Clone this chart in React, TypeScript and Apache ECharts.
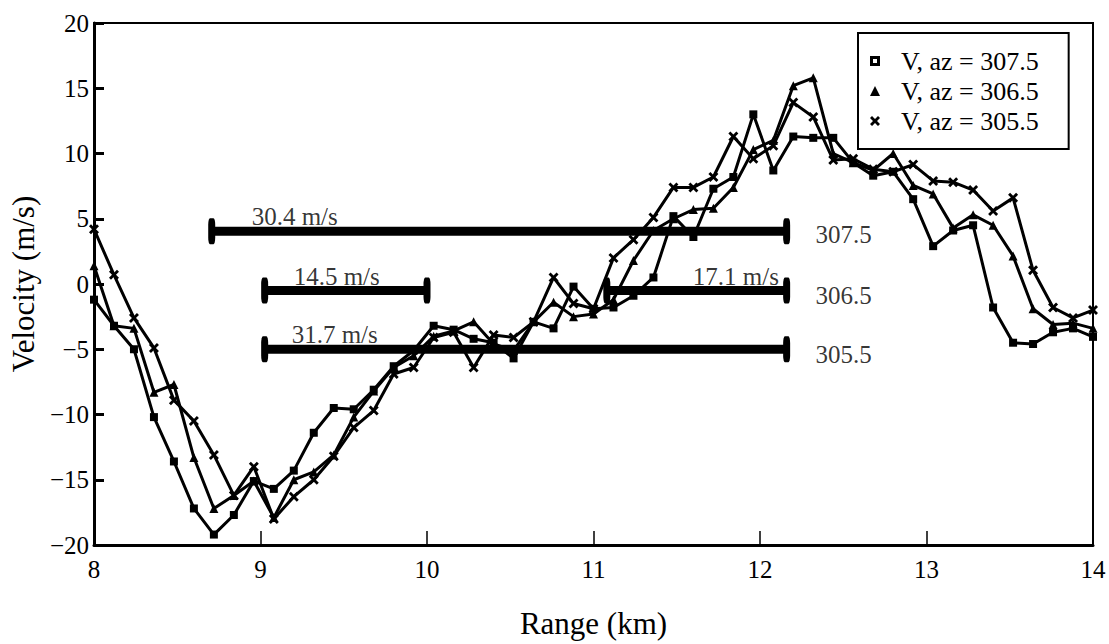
import React, { useEffect, useRef } from "react";
import * as echarts from "echarts";

const ranges = [
  8.0, 8.12, 8.24, 8.36, 8.48, 8.6, 8.72, 8.84, 8.96, 9.08, 9.2, 9.32, 9.44, 9.56, 9.68, 9.8, 9.92,
  10.04, 10.16, 10.28, 10.4, 10.52, 10.64, 10.76, 10.88, 11.0, 11.12, 11.24, 11.36, 11.48, 11.6,
  11.72, 11.84, 11.96, 12.08, 12.2, 12.32, 12.44, 12.56, 12.68, 12.8, 12.92, 13.04, 13.16, 13.28,
  13.4, 13.52, 13.64, 13.76, 13.88, 14.0,
];

const vAz3075 = [
  -1.2, -3.2, -5.0, -10.2, -13.6, -17.2, -19.2, -17.7, -15.1, -15.7, -14.3, -11.4, -9.5, -9.6, -8.1,
  -6.3, -5.1, -3.2, -3.5, -4.2, -4.5, -5.7, -2.9, -3.4, -0.2, -1.9, -1.8, -0.9, 0.5, 5.2, 3.6, 7.3,
  8.2, 13.0, 8.7, 11.3, 11.2, 11.2, 9.3, 8.3, 8.6, 6.5, 2.9, 4.1, 4.5, -1.8, -4.5, -4.6, -3.7, -3.4,
  -4.05,
];

const vAz3065 = [
  1.4, -3.2, -3.4, -8.3, -7.7, -13.3, -17.2, -16.2, -15.1, -17.9, -15.0, -14.4, -13.1, -10.2, -8.2,
  -6.4, -5.5, -4.0, -3.6, -2.9, -4.6, -5.1, -2.9, -1.4, -2.5, -2.3, -1.2, 1.8, 4.1, 5.0, 5.7, 5.8,
  7.4, 10.3, 11.0, 15.2, 15.8, 10.0, 9.3, 8.7, 10.0, 7.55, 6.9, 4.3, 5.3, 4.5, 2.15, -1.9, -3.1,
  -3.0, -3.4,
];

const vAz3055 = [
  4.2, 0.7, -2.6, -4.9, -8.9, -10.5, -13.1, -16.2, -14.0, -18.0, -16.3, -15.0, -13.2, -11.0, -9.7,
  -6.9, -6.4, -4.1, -3.7, -6.4, -3.9, -4.1, -2.9, 0.5, -1.5, -1.9, 2.0, 3.4, 5.1, 7.4, 7.4, 8.2,
  11.3, 9.6, 10.6, 13.9, 12.8, 9.5, 9.6, 8.8, 8.6, 9.15, 7.9, 7.8, 7.2, 5.6, 6.6, 1.05, -1.8, -2.6,
  -2.0,
];

const seriesNames = ["V, az = 307.5", "V, az = 306.5", "V, az = 305.5"];

// Mean-velocity bars: [startRange, endRange, velocity]
const barStart = [8.707, 9.025, 11.08, 9.025];
const barEnd = [12.16, 10.0, 12.16, 12.16];
const barLevel = [4.05, -0.5, -0.5, -5.0];

// Bar annotations
const barLabelText = ["30.4 m/s", "14.5 m/s", "17.1 m/s", "31.7 m/s"];
const barLabelX = [8.947, 9.199, 11.596, 9.187];
const barLabelY = [5.17, 0.6, 0.6, -3.87];

const azLabelText = ["307.5", "306.5", "305.5"];
const azLabelX = [12.334, 12.334, 12.334];
const azLabelY = [3.77, -0.87, -5.4];

const xTicks = [8, 14, 1];
const yTicks = [-20, 20, 5];

const FONT = "'Liberation Serif', 'Times New Roman', serif";
const X_PATH =
  "path://M2,0 L5,3 L8,0 L10,2 L7,5 L10,8 L8,10 L5,7 L2,10 L0,8 L3,5 L0,2 Z";
const HOLLOW_SQ = "path://M0,0 L10,0 L10,10 L0,10 Z M3,3 L3,7 L7,7 L7,3 Z";

export default function App() {
  const ref = useRef<HTMLDivElement>(null);

  useEffect(() => {
    if (!ref.current) return;
    const chart = echarts.init(ref.current, null, { renderer: "svg" });

    const mk = (vals: number[]) => ranges.map((r, i) => [r, vals[i]]);

    const lineBase = {
      type: "line" as const,
      lineStyle: { color: "#000", width: 3 },
      itemStyle: { color: "#000" },
      showSymbol: true,
      z: 3,
    };

    const barSeries = barStart.map((s, i) => ({
      type: "line" as const,
      name: "bar" + i,
      data: [
        [s, barLevel[i]],
        [barEnd[i], barLevel[i]],
      ],
      lineStyle: { color: "#000", width: 9 },
      itemStyle: { color: "#000" },
      symbol: "roundRect",
      symbolSize: [7, 26],
      z: 2,
      silent: true,
    }));

    const labelSeries = (texts: string[], xs: number[], ys: number[], name: string) => ({
      type: "scatter" as const,
      name,
      symbolSize: 0,
      data: texts.map((t, i) => ({ value: [xs[i], ys[i]], name: t })),
      label: {
        show: true,
        position: [0, 0],
        align: "left",
        verticalAlign: "middle",
        formatter: (p: any) => p.name,
        color: "#000",
        fontSize: 25,
        fontFamily: FONT,
      },
      z: 4,
      silent: true,
    });

    chart.setOption({
      animation: false,
      backgroundColor: "#fff",
      grid: {
        left: 92,
        right: 16,
        top: 23,
        bottom: 78,
        show: true,
        borderColor: "#000",
        borderWidth: 2,
      },
      legend: {
        data: [
          { name: seriesNames[0], icon: HOLLOW_SQ },
          { name: seriesNames[1], icon: "triangle" },
          { name: seriesNames[2], icon: X_PATH },
        ],
        orient: "vertical",
        left: 858,
        top: 33,
        width: 222,
        borderColor: "#000",
        borderWidth: 2,
        padding: [15, 30, 15, 12],
        itemGap: 4,
        itemWidth: 10,
        itemHeight: 10,
        backgroundColor: "#fff",
        textStyle: {
          fontSize: 26,
          fontFamily: FONT,
          color: "#000",
          padding: [0, 0, 0, 16],
        },
        z: 10,
      },
      xAxis: {
        type: "value",
        min: xTicks[0],
        max: xTicks[1],
        interval: xTicks[2],
        name: "Range (km)",
        nameLocation: "middle",
        nameGap: 63,
        nameTextStyle: { fontSize: 31, fontFamily: FONT, color: "#000" },
        axisLine: { onZero: false, lineStyle: { color: "#000", width: 3 } },
        axisTick: { inside: true, length: 14, lineStyle: { color: "#000", width: 1.5 } },
        axisLabel: { fontSize: 25, fontFamily: FONT, color: "#000", margin: 12 },
        splitLine: { show: false },
      },
      yAxis: {
        type: "value",
        min: yTicks[0],
        max: yTicks[1],
        interval: yTicks[2],
        name: "Velocity (m/s)",
        nameLocation: "middle",
        nameGap: 52,
        nameTextStyle: { fontSize: 31, fontFamily: FONT, color: "#000" },
        axisLine: { onZero: false, lineStyle: { color: "#000", width: 3 } },
        axisTick: { inside: true, length: 10, lineStyle: { color: "#000", width: 3 } },
        axisLabel: {
          fontSize: 25,
          fontFamily: FONT,
          color: "#000",
          margin: 5,
          formatter: (v: number) => (v < 0 ? "\u2212" + Math.abs(v) : String(v)),
        },
        splitLine: { show: false },
      },
      series: [
        { ...lineBase, name: seriesNames[0], data: mk(vAz3075), symbol: "rect", symbolSize: 8 },
        { ...lineBase, name: seriesNames[1], data: mk(vAz3065), symbol: "triangle", symbolSize: 9 },
        { ...lineBase, name: seriesNames[2], data: mk(vAz3055), symbol: X_PATH, symbolSize: 10 },
        ...barSeries,
        labelSeries(barLabelText, barLabelX, barLabelY, "barLabels"),
        labelSeries(azLabelText, azLabelX, azLabelY, "azLabels"),
      ],
    });

    return () => chart.dispose();
  }, []);

  return (
    <div
      ref={ref}
      style={{ position: "fixed", left: 0, top: 0, width: 1109, height: 644, background: "#fff" }}
    />
  );
}
